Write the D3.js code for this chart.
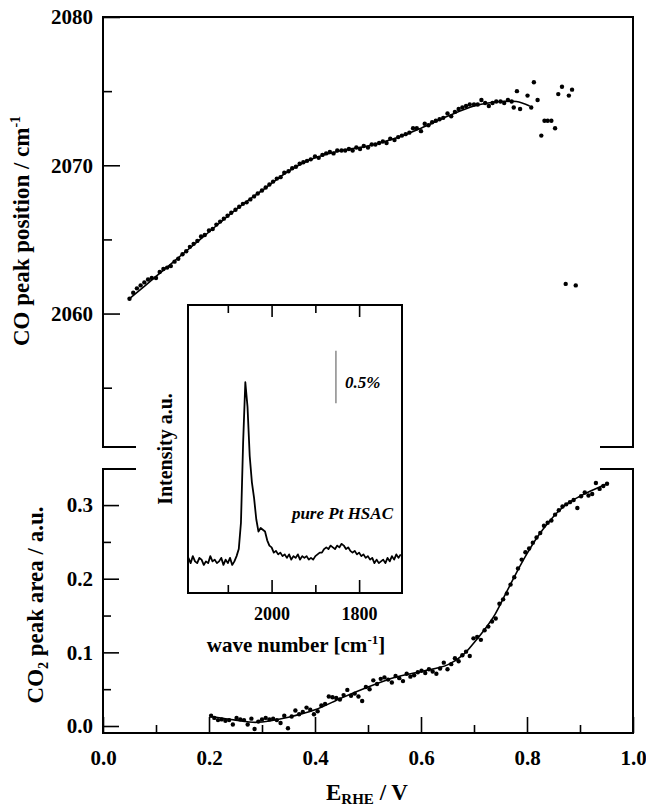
<!DOCTYPE html>
<html><head><meta charset="utf-8">
<script src="https://cdn.jsdelivr.net/npm/d3@7"></script>
<style>
body{margin:0;background:#fff}
text{font-family:"Liberation Serif","Times New Roman",serif;font-weight:bold;fill:#000}
</style>
</head><body>
<svg id="c" width="646" height="807"></svg>
<script>
// ---------- DATA ----------
// Top panel: CO peak position (cm-1) vs E_RHE (V)
const coV = [
0.050,0.057,0.064,0.071,0.078,0.085,0.092,0.100,0.107,0.114,
0.121,0.128,0.135,0.142,0.150,0.157,0.164,0.171,0.178,0.185,
0.192,0.200,0.207,0.214,0.221,0.228,0.235,0.242,0.250,0.257,
0.264,0.271,0.278,0.285,0.292,0.300,0.307,0.314,0.321,0.328,
0.335,0.342,0.350,0.357,0.364,0.371,0.378,0.385,0.392,0.400,
0.407,0.414,0.421,0.428,0.435,0.442,0.450,0.457,0.464,0.471,
0.478,0.485,0.492,0.500,0.507,0.514,0.521,0.528,0.535,0.542,
0.550,0.557,0.564,0.571,0.578,0.585,0.592,0.600,0.607,0.614,
0.621,0.628,0.635,0.642,0.650,0.657,0.664,0.671,0.678,0.685,
0.692,0.700,0.707,0.714,0.721,0.728,0.735,0.742,0.750,0.757,
0.764,0.771,0.775,0.781,0.787,0.801,0.808,0.813,0.820,0.827,
0.833,0.839,0.846,0.853,0.859,0.866,0.873,0.879,0.885,0.892];
const coPos = [
2061.0,2061.4,2061.7,2061.9,2062.1,2062.3,2062.4,2062.4,2062.8,2063.0,
2063.1,2063.2,2063.5,2063.7,2064.0,2064.2,2064.5,2064.7,2064.9,2065.2,
2065.3,2065.6,2065.7,2066.0,2066.2,2066.4,2066.6,2066.8,2067.0,2067.2,
2067.4,2067.5,2067.7,2067.9,2068.1,2068.3,2068.5,2068.7,2068.9,2069.1,
2069.2,2069.5,2069.6,2069.8,2069.9,2070.1,2070.2,2070.3,2070.4,2070.6,
2070.5,2070.7,2070.8,2070.9,2070.8,2071.0,2071.0,2071.0,2071.1,2071.0,
2071.2,2071.1,2071.3,2071.2,2071.4,2071.4,2071.5,2071.6,2071.5,2071.8,
2071.7,2071.9,2072.0,2072.1,2072.2,2072.5,2072.5,2072.3,2072.8,2072.7,
2072.9,2073.0,2073.1,2073.2,2073.5,2073.3,2073.6,2073.8,2073.9,2074.0,
2074.1,2074.1,2074.1,2074.4,2074.2,2074.0,2074.2,2074.3,2074.3,2074.2,
2074.4,2074.3,2073.9,2075.0,2073.8,2074.7,2073.9,2075.6,2074.4,2072.0,
2073.0,2073.0,2073.0,2072.5,2074.8,2075.3,2062.0,2074.7,2075.1,2061.9];
// smoothed fit line, top panel
const coFitV   = [0.050,0.100,0.150,0.200,0.250,0.300,0.350,0.400,0.450,0.500,0.550,0.600,0.650,0.700,0.750,0.780,0.805];
const coFitPos = [2061.0,2062.5,2064.0,2065.5,2067.0,2068.3,2069.6,2070.5,2071.0,2071.3,2071.8,2072.5,2073.3,2074.0,2074.3,2074.3,2074.0];

// Bottom panel: CO2 peak area (a.u.) vs E_RHE (V)
const co2V = [
0.204,0.210,0.217,0.224,0.231,0.238,0.245,0.252,0.259,0.266,
0.273,0.280,0.286,0.293,0.300,0.307,0.314,0.321,0.328,0.335,
0.342,0.349,0.356,0.363,0.370,0.377,0.384,0.391,0.398,0.405,
0.412,0.419,0.426,0.433,0.440,0.447,0.454,0.461,0.468,0.475,
0.482,0.489,0.496,0.503,0.510,0.517,0.524,0.531,0.538,0.545,
0.552,0.559,0.566,0.573,0.580,0.587,0.594,0.601,0.608,0.615,
0.622,0.629,0.636,0.643,0.650,0.657,0.664,0.671,0.678,0.685,
0.692,0.699,0.706,0.713,0.720,0.727,0.734,0.741,0.748,0.755,
0.762,0.769,0.776,0.783,0.790,0.797,0.804,0.811,0.818,0.825,
0.832,0.839,0.846,0.853,0.860,0.867,0.874,0.881,0.888,0.895,
0.902,0.909,0.916,0.923,0.930,0.937,0.944,0.951];
const co2Area = [
0.014,0.011,0.008,0.009,0.007,0.008,0.002,0.011,0.009,0.008,
0.002,0.010,-0.004,0.006,0.009,0.011,0.009,0.010,0.008,0.004,
0.014,-0.003,0.013,0.021,0.016,0.019,0.025,0.022,0.016,0.020,
0.028,0.030,0.040,0.039,0.038,0.036,0.042,0.049,0.041,0.044,
0.040,0.034,0.053,0.050,0.062,0.057,0.064,0.066,0.063,0.059,
0.068,0.065,0.061,0.071,0.067,0.069,0.073,0.075,0.072,0.077,
0.074,0.071,0.078,0.086,0.077,0.084,0.092,0.088,0.096,0.101,
0.095,0.119,0.121,0.117,0.130,0.135,0.142,0.146,0.166,0.172,
0.180,0.192,0.202,0.214,0.226,0.236,0.241,0.249,0.256,0.262,
0.272,0.276,0.279,0.287,0.293,0.298,0.301,0.304,0.307,0.296,
0.312,0.317,0.313,0.315,0.330,0.322,0.326,0.329];
const co2FitV    = [0.205,0.250,0.290,0.350,0.400,0.450,0.500,0.550,0.600,0.650,0.680,0.700,0.720,0.740,0.760,0.780,0.800,0.820,0.840,0.860,0.880,0.900,0.920,0.951];
const co2FitArea = [0.013,0.008,0.005,0.012,0.022,0.038,0.053,0.066,0.074,0.083,0.097,0.113,0.131,0.152,0.180,0.208,0.234,0.257,0.276,0.292,0.304,0.312,0.319,0.329];

// Inset: IR spectrum, pure Pt HSAC
const waveNumber = [
2190,2185,2180,2175,2170,2165,2160,2155,2150,2145,2140,2135,2130,2125,2120,2115,2110,2105,2100,2095,2090,2085,
2080,2075,2070,2065,2060,2055,2050,2045,2040,2035,
2030,2025,2020,2015,2010,2005,2000,1995,1990,1985,
1980,1975,1970,1965,1960,1955,1950,1945,1940,1935,
1930,1925,1920,1915,1910,1905,1900,1895,1890,1885,
1880,1875,1870,1865,1860,1855,1850,1845,1840,1835,
1830,1825,1820,1815,1810,1805,1800,1795,1790,1785,
1780,1775,1770,1765,1760,1755,1750,1745,1740,1735,
1730,1725,1720,1715,1710,1705];
const intensity = [
0.00,-0.03,0.01,-0.02,-0.03,0.00,-0.01,-0.04,-0.02,-0.03,0.01,-0.02,-0.01,-0.03,-0.02,0.00,-0.04,-0.01,-0.03,0.00,-0.04,-0.02,
0.01,0.05,0.20,0.66,1.00,0.86,0.58,0.43,0.34,0.22,
0.15,0.17,0.16,0.15,0.10,0.07,0.06,0.03,0.04,0.02,
0.03,0.01,0.02,0.00,0.02,-0.01,0.01,0.00,0.02,-0.01,
0.01,0.00,0.01,-0.01,0.00,-0.01,0.01,0.02,0.03,0.03,
0.05,0.06,0.05,0.07,0.06,0.05,0.07,0.06,0.08,0.07,
0.05,0.06,0.04,0.03,0.04,0.02,0.03,0.01,0.02,0.00,
0.01,-0.01,0.00,-0.03,-0.01,-0.03,-0.02,-0.01,-0.03,0.00,
-0.02,0.01,-0.01,0.02,0.00,0.02];
const scaleBarWn = 1853;
const scaleBarRange = [0.88, 1.18];   // 0.5 % in intensity units

// Tick values / labels
const xTicks = [0, 0.2, 0.4, 0.6, 0.8, 1.0];
const xMinorTicks = [0.1, 0.3, 0.5, 0.7, 0.9];
const topTicks = [2060, 2070, 2080];
const topMinorTicks = [2055, 2065, 2075];
const botTicks = [0.0, 0.1, 0.2, 0.3];
const botMinorTicks = [0.05, 0.15, 0.25];
const insetTicks = [2000, 1800];
const insetMinorTicks = [2100, 1900];

// ---------- DRAW ----------
const svg = d3.select("#c");
const L = 103, R = 633;
const x = d3.scaleLinear().domain([0, 1]).range([L, R]);
const yTop = d3.scaleLinear().domain([2051, 2080]).range([447, 17]);
const yBot = d3.scaleLinear().domain([-0.0095, 0.349]).range([733, 469]);
const xi = d3.scaleLinear().domain([2191, 1702]).range([188, 402]);
const yi = d3.scaleLinear().domain([-0.2, 1.44]).range([593, 305]);

const FW = 2;
function styleAxis(g, fs) {
  g.select(".domain").remove();
  g.selectAll(".tick line").attr("stroke", "#000").attr("stroke-width", 1.6);
  g.selectAll(".tick text").attr("font-size", fs).attr("font-family", '"Liberation Serif",serif').attr("font-weight", "bold").attr("fill", "#000");
}

// Top panel axes
svg.append("g").attr("transform", `translate(${L},0)`)
  .call(d3.axisLeft(yTop).tickValues(topTicks).tickFormat(d3.format("d")).tickSize(-17).tickPadding(10))
  .call(g => styleAxis(g, 21));
svg.append("g").attr("transform", `translate(${L},0)`)
  .call(d3.axisLeft(yTop).tickValues(topMinorTicks).tickFormat("").tickSize(-9))
  .call(g => styleAxis(g, 21));

// Bottom panel axes
svg.append("g").attr("transform", `translate(${L},0)`)
  .call(d3.axisLeft(yBot).tickValues(botTicks).tickFormat(d3.format(".1f")).tickSize(-16).tickPadding(10))
  .call(g => styleAxis(g, 21));
svg.append("g").attr("transform", `translate(${L},0)`)
  .call(d3.axisLeft(yBot).tickValues(botMinorTicks).tickFormat("").tickSize(-8))
  .call(g => styleAxis(g, 21));
svg.append("g").attr("transform", `translate(0,${yBot.range()[0]})`)
  .call(d3.axisBottom(x).tickValues(xTicks).tickFormat(d3.format(".1f")).tickSize(-16).tickPadding(17))
  .call(g => styleAxis(g, 21));
svg.append("g").attr("transform", `translate(0,${yBot.range()[0]})`)
  .call(d3.axisBottom(x).tickValues(xMinorTicks).tickFormat("").tickSize(-8))
  .call(g => styleAxis(g, 21));

// Frames (with axis break)
const frame = svg.append("g").attr("stroke", "#000").attr("stroke-width", FW).attr("fill", "none").attr("stroke-linecap", "square");
const tT = yTop.range()[1], tB = yTop.range()[0], bT = yBot.range()[1], bB = yBot.range()[0];
const stub = 32;
frame.append("path").attr("d", `M${L+stub},${tB}H${L}V${tT}H${R}V${tB}H${R-stub}`);
frame.append("path").attr("d", `M${L+stub},${bT}H${L}V${bB}H${R}V${bT}H${R-stub}`);

// Fit lines
const lineTop = d3.line().x(d => x(d[0])).y(d => yTop(d[1])).curve(d3.curveCatmullRom.alpha(0.5));
svg.append("path").datum(d3.zip(coFitV, coFitPos)).attr("d", lineTop)
  .attr("fill", "none").attr("stroke", "#000").attr("stroke-width", 1.6);
const lineBot = d3.line().x(d => x(d[0])).y(d => yBot(d[1])).curve(d3.curveCatmullRom.alpha(0.5));
svg.append("path").datum(d3.zip(co2FitV, co2FitArea)).attr("d", lineBot)
  .attr("fill", "none").attr("stroke", "#000").attr("stroke-width", 1.6);

// Points
svg.append("g").selectAll("circle").data(d3.zip(coV, coPos)).join("circle")
  .attr("cx", d => x(d[0])).attr("cy", d => yTop(d[1])).attr("r", 2.2).attr("fill", "#000");
svg.append("g").selectAll("circle").data(d3.zip(co2V, co2Area)).join("circle")
  .attr("cx", d => x(d[0])).attr("cy", d => yBot(d[1])).attr("r", 2.2).attr("fill", "#000");

// ---------- INSET ----------
const inset = svg.append("g");
inset.append("rect").attr("x", xi.range()[0]).attr("y", yi.range()[1])
  .attr("width", xi.range()[1] - xi.range()[0]).attr("height", yi.range()[0] - yi.range()[1])
  .attr("fill", "#fff").attr("stroke", "#000").attr("stroke-width", FW);
inset.append("g").attr("transform", `translate(0,${yi.range()[0]})`)
  .call(d3.axisBottom(xi).tickValues(insetTicks).tickFormat(d3.format("d")).tickSize(-13).tickPadding(14))
  .call(g => styleAxis(g, 18));
inset.append("g").attr("transform", `translate(0,${yi.range()[0]})`)
  .call(d3.axisBottom(xi).tickValues(insetMinorTicks).tickFormat("").tickSize(-8))
  .call(g => styleAxis(g, 18));
inset.append("g").attr("transform", `translate(0,${yi.range()[1]})`)
  .call(d3.axisTop(xi).tickValues(insetTicks).tickFormat("").tickSize(-12))
  .call(g => styleAxis(g, 18));
inset.append("g").attr("transform", `translate(0,${yi.range()[1]})`)
  .call(d3.axisTop(xi).tickValues(insetMinorTicks).tickFormat("").tickSize(-8))
  .call(g => styleAxis(g, 18));
inset.append("path").datum(d3.zip(waveNumber, intensity))
  .attr("d", d3.line().x(d => xi(d[0])).y(d => yi(d[1])))
  .attr("fill", "none").attr("stroke", "#000").attr("stroke-width", 1.8).attr("stroke-linejoin", "round");
inset.append("line")
  .attr("x1", xi(scaleBarWn)).attr("x2", xi(scaleBarWn))
  .attr("y1", yi(scaleBarRange[0])).attr("y2", yi(scaleBarRange[1]))
  .attr("stroke", "#8a8a8a").attr("stroke-width", 1.5);
inset.append("text").attr("x", 345).attr("y", 388).attr("font-size", 17).attr("font-style", "italic").text("0.5%");
inset.append("text").attr("x", 393).attr("y", 519).attr("font-size", 17).attr("font-style", "italic")
  .attr("text-anchor", "end").text("pure Pt HSAC");
const wl = inset.append("text").attr("x", 296).attr("y", 652).attr("font-size", 21).attr("text-anchor", "middle");
wl.append("tspan").text("wave number [cm");
wl.append("tspan").attr("dy", -8).attr("font-size", 13).text("-1");
wl.append("tspan").attr("dy", 8).text("]");
inset.append("text").attr("transform", "translate(172,449) rotate(-90)").attr("font-size", 20)
  .attr("text-anchor", "middle").text("Intensity a.u.");

// ---------- AXIS TITLES ----------
const t1 = svg.append("text").attr("transform", "translate(29,231) rotate(-90)").attr("font-size", 23).attr("text-anchor", "middle");
t1.append("tspan").text("CO peak position / cm");
t1.append("tspan").attr("dy", -9).attr("font-size", 14).text("-1");
const t2 = svg.append("text").attr("transform", "translate(43,605) rotate(-90)").attr("font-size", 23).attr("text-anchor", "middle");
t2.append("tspan").text("CO");
t2.append("tspan").attr("dy", 5).attr("font-size", 14).text("2");
t2.append("tspan").attr("dy", -5).text(" peak area / a.u.");
const t3 = svg.append("text").attr("x", 367).attr("y", 800).attr("font-size", 23).attr("text-anchor", "middle");
t3.append("tspan").text("E");
t3.append("tspan").attr("dy", 4).attr("font-size", 15).text("RHE");
t3.append("tspan").attr("dy", -4).text(" / V");
</script>
</body></html>
